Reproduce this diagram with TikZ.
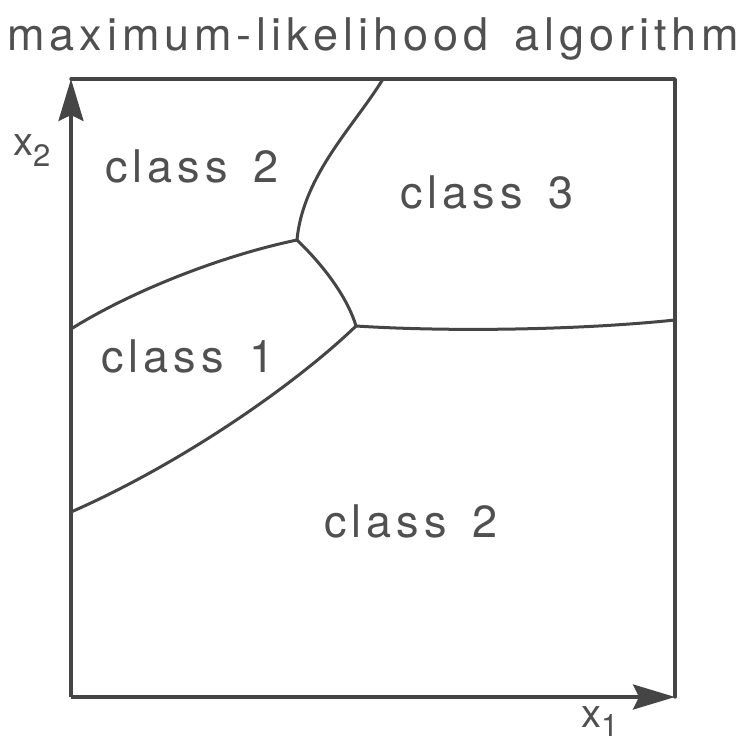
\documentclass[tikz,border=0pt]{standalone}
\usepackage{fontspec}
\setmainfont{TeX Gyre Heros}[LetterSpace=11,WordSpace=1.5]
\usetikzlibrary{arrows.meta}
\definecolor{ink}{HTML}{454545}
\definecolor{txt}{HTML}{505050}
\begin{document}
\begin{tikzpicture}[x=1pt,y=-1pt,
  bound/.style={line width=3.4pt,draw=ink,line cap=round,line join=round},
  edge/.style={line width=3pt,draw=ink,line cap=round},
  axis/.style={line width=3.4pt,draw=ink,-{Stealth[length=42pt,width=25pt,inset=6pt]}},
  lab/.style={font=\fontsize{45}{45}\selectfont,text=txt,inner sep=0pt,anchor=base},
  axlab/.style={font=\fontsize{40}{40}\selectfont,text=txt,inner sep=0pt,anchor=base west}]
\useasboundingbox (0,0) rectangle (741,742);
\fill[white] (0,0) rectangle (741,742);
% corners and junctions
\coordinate (O) at (71,697);
\coordinate (TL) at (71,79);
\coordinate (TR) at (675,79);
\coordinate (BR) at (675,697);
\coordinate (T) at (383,79);
\coordinate (J1) at (297,240);
\coordinate (J2) at (356,326);
\coordinate (L1) at (71,329);
\coordinate (L2) at (71,512);
\coordinate (R1) at (675,320);
% frame
\draw[bound] (TL) -- (TR) -- (BR);
\draw[axis] (O) -- (TL);
\draw[axis] (O) -- (BR);
% boundaries
\draw[edge] (T) .. controls (355,125) and (303,175) .. (J1);
\draw[edge] (J1) .. controls (220,256) and (130,292) .. (L1);
\draw[edge] (J1) .. controls (322,264) and (347,296) .. (J2);
\draw[edge] (J2) .. controls (298,382) and (185,462) .. (L2);
\draw[edge] (J2) .. controls (450,332) and (580,330) .. (R1);
% labels
\node[lab] (title) at (373,50) {maximum-likelihood algorithm};
\node[lab] (c2a) at (192,182) {class 2};
\node[lab] (c3) at (487,208) {class 3};
\node[lab] (c1) at (188,372) {class 1};
\node[lab] (c2b) at (411,537) {class 2};
\node[axlab] (x2) at (13,155) {x\raisebox{-11pt}{\fontsize{31}{31}\selectfont 2}};
\node[axlab] (x1) at (581,727) {x\raisebox{-9pt}{\fontsize{31}{31}\selectfont 1}};
\end{tikzpicture}
\end{document}
